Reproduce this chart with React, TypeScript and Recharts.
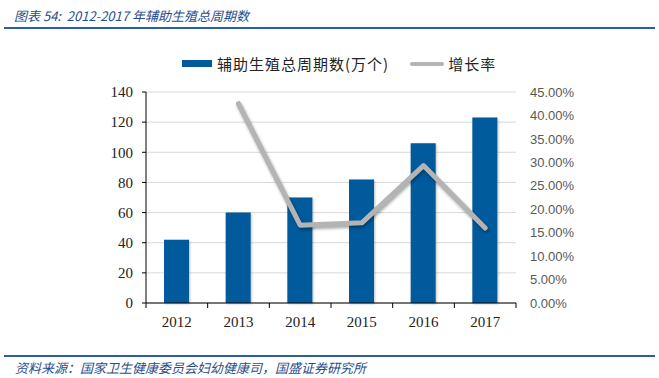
import {
  Bar,
  CartesianGrid,
  ComposedChart,
  Line,
  XAxis,
  YAxis,
} from 'recharts'

const YEARS = ['2012', '2013', '2014', '2015', '2016', '2017']
const CYCLES = [42, 60, 70, 82, 106, 123]
const GROWTH = [null, 0.425, 0.166, 0.171, 0.293, 0.16]
const LEFT_TICKS = [0, 20, 40, 60, 80, 100, 120, 140]
const RIGHT_TICKS = [0, 0.05, 0.1, 0.15, 0.2, 0.25, 0.3, 0.35, 0.4, 0.45]

const BAR_NAME = '辅助生殖总周期数(万个)'
const LINE_NAME = '增长率'

const BLUE = '#005a9c'
const GREY = '#b4b4b4'
const SERIF = '"Liberation Serif", "Times New Roman", serif'
const CJK = '"Noto Sans CJK SC", sans-serif'

const data = YEARS.map((year, i) => ({
  year,
  cycles: CYCLES[i],
  growth: GROWTH[i],
}))

function YearTick(props: any) {
  const { x, y, payload, index } = props
  const half = payload.offset ?? 0
  const top = y - 8
  return (
    <g>
      <line x1={x - half} x2={x - half} y1={top} y2={top + 5} stroke="#000" />
      {index === YEARS.length - 1 && (
        <line x1={x + half} x2={x + half} y1={top} y2={top + 5} stroke="#000" />
      )}
      <text
        x={x}
        y={y + 16}
        textAnchor="middle"
        fill="#222"
        fontSize={15}
        fontFamily={SERIF}
      >
        {payload.value}
      </text>
    </g>
  )
}

function ChartLegend() {
  return (
    <div
      style={{
        position: 'absolute',
        left: 182,
        top: 53,
        display: 'flex',
        alignItems: 'center',
        fontFamily: CJK,
        fontSize: 15,
        letterSpacing: 1,
        color: '#222',
        whiteSpace: 'nowrap',
      }}
    >
      <span style={{ width: 30, height: 7, background: BLUE, marginRight: 5 }} />
      <span>{BAR_NAME}</span>
      <span
        style={{
          width: 34,
          height: 4,
          background: GREY,
          borderRadius: 2,
          marginLeft: 21,
          marginRight: 4,
        }}
      />
      <span>{LINE_NAME}</span>
    </div>
  )
}

export default function App() {
  return (
    <div
      style={{
        position: 'absolute',
        left: 0,
        top: 0,
        width: 659,
        height: 378,
        background: '#fff',
      }}
    >
      <div
        style={{
          position: 'absolute',
          left: 14,
          top: 6,
          fontSize: 13,
          fontStyle: 'italic',
          color: '#1f4e8c',
          fontFamily: CJK,
          whiteSpace: 'pre',
        }}
      >
        图表 54:  2012-2017 年辅助生殖总周期数
      </div>
      <div
        style={{
          position: 'absolute',
          left: 4,
          right: 4,
          top: 27,
          height: 2,
          background: '#2d5fa8',
        }}
      />
      <ComposedChart
        width={659}
        height={378}
        data={data}
        margin={{ top: 92, right: 0, bottom: 0, left: 0 }}
      >
        <CartesianGrid yAxisId="left" vertical={false} stroke="#d9d9d9" />
        <XAxis
          dataKey="year"
          height={75}
          axisLine={{ stroke: '#000' }}
          tickLine={false}
          tick={<YearTick />}
          interval={0}
        />
        <YAxis
          yAxisId="left"
          width={146}
          domain={[0, 140]}
          ticks={LEFT_TICKS}
          interval={0}
          axisLine={{ stroke: '#000' }}
          tickLine={{ stroke: '#000' }}
          tickSize={4}
          tickMargin={9}
          tick={{ fill: '#222', fontSize: 15, fontFamily: SERIF }}
        />
        <YAxis
          yAxisId="right"
          orientation="right"
          width={143}
          domain={[0, 0.45]}
          ticks={RIGHT_TICKS}
          interval={0}
          axisLine={false}
          tickLine={false}
          tickSize={0}
          tickMargin={14}
          tickFormatter={(v: number) => `${(v * 100).toFixed(2)}%`}
          tick={{
            fill: '#595959',
            fontSize: 13,
            fontFamily: '"Liberation Sans", Arial, sans-serif',
            textAnchor: 'start',
          }}
        />
        <Bar
          yAxisId="left"
          dataKey="cycles"
          name={BAR_NAME}
          fill={BLUE}
          barSize={25}
          isAnimationActive={false}
          style={{ filter: 'drop-shadow(1px 1px 1px rgba(0,0,0,0.25))' }}
        />
        <Line
          yAxisId="right"
          dataKey="growth"
          name={LINE_NAME}
          stroke={GREY}
          strokeWidth={5}
          strokeLinecap="round"
          strokeLinejoin="round"
          dot={false}
          activeDot={false}
          isAnimationActive={false}
          style={{ filter: 'drop-shadow(1px 2px 1.5px rgba(0,0,0,0.35))' }}
        />
      </ComposedChart>
      <ChartLegend />
      <div
        style={{
          position: 'absolute',
          left: 4,
          right: 4,
          top: 355,
          height: 2,
          background: '#2d5fa8',
        }}
      />
      <div
        style={{
          position: 'absolute',
          left: 15,
          top: 358,
          fontSize: 13,
          fontStyle: 'italic',
          color: '#1f4e8c',
          fontFamily: CJK,
          whiteSpace: 'nowrap',
        }}
      >
        资料来源：国家卫生健康委员会妇幼健康司，国盛证券研究所
      </div>
    </div>
  )
}
